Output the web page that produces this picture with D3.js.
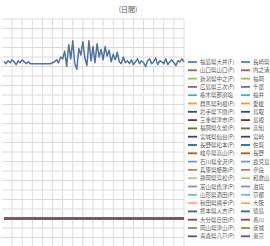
<!DOCTYPE html>
<html><head><meta charset="utf-8">
<script src="https://cdn.jsdelivr.net/npm/d3@7"></script>
<style>html,body{margin:0;padding:0;background:#fff;overflow:hidden}</style>
</head><body><svg id="c" width="270" height="246"></svg>
<script>
const titleText = "(日間)";
const categories = d3.range(1, 91).map(d => "第" + d + "日");
const mainSeries = [165,163,166,164,167,165,162,166,164,167,165,163,165,
  163,163,163,163,163,163,163,163,163,163,163,164,
  165,167,164,170,168,
  176,160,183,168,187,163,157,179,172,186,169,161,187,166,181,164,184,170,178,167,181,171,177,165,173,167,175,165,163,170,
  164,166,163,167,162,165,168,163,166,164,160,166,168,163,165,169,162,166,165,163,168,162,165,167,164,161,166,165,168,165];
const flatSeries = [0,0,0,0,0,0,0,0,0,0,0,0,0,0,0,0,0,0,0,0,0,0,0,0,0,0,0,0,0,0,
  0,0,0,0,0,0,0,0,0,0,0,0,0,0,0,0,0,0,0,0,0,0,0,0,0,0,0,0,0,0,
  0,0,0,0,0,0,0,0,0,0,0,0,0,0,0,0,0,0,0,0,0,0,0,0,0,0,0,0,0,0];
const seriesNames = [
 "福島県大井(F)","山口県山口(P)","新潟県中之(P)","広島県三次(P)","栃木県那須塩","群馬県利根(P)",
 "岩手県下閉(P)","三重県津市(P)","福岡県久留(P)","宮城県仙台(P)","長野県松本(P)","岐阜県高山(P)",
 "石川県金沢(P)","兵庫県姫路(P)","静岡県浜松(P)","富山県魚津(P)","山形県酒田(P)","秋田県横手(P)",
 "熊本県人吉(P)","大分県日田(P)","岡山県津山(P)","青森県八戸(P)",
 "長崎県","内之浦","福岡","千葉","福井","愛媛","鳥取","島根","高知","宮崎","佐賀",
 "長野","鹿児島","奈良","和歌山","滋賀","京都","大阪","徳島","香川","茨城","東京"];
const palette = ["#4F81BD","#C0504D","#9BBB59","#8064A2","#4BACC6","#F79646",
 "#2C4D75","#772C2A","#5F7530","#4D3B62","#276A7C","#B65708",
 "#729ACA","#CD7371","#AFC97A","#9983B5","#6FBDD1","#F9AB6B",
 "#3A6595","#9A3B38","#7B9A3E","#644D82"];
const yTicks = d3.range(-30, 211, 10);

const svg = d3.select("#c");
const x = d3.scalePoint().domain(categories).range([4, 184]);
const y = d3.scaleLinear().domain([-30, 210]).range([247, 19]);
const g = svg.append("g");
g.selectAll(".hg").data(yTicks).join("line")
 .attr("x1", 2).attr("x2", 184).attr("y1", d => y(d)).attr("y2", d => y(d))
 .attr("stroke", "#dcdcdc").attr("stroke-width", 1);
g.selectAll(".vg").data(categories.filter((d, i) => i % 5 === 4)).join("line")
 .attr("x1", d => x(d)).attr("x2", d => x(d)).attr("y1", 19).attr("y2", 247)
 .attr("stroke", "#dcdcdc").attr("stroke-width", 1);

const line = d3.line().x((d, i) => x(categories[i])).y(d => y(d));
const colorOf = i => palette[i % palette.length];
for (let s = seriesNames.length - 1; s >= 1; s--) {
  g.append("path").attr("d", line(flatSeries)).attr("fill", "none")
   .attr("stroke", colorOf(s)).attr("stroke-width", 2.5);
}
g.append("path").attr("d", line(flatSeries)).attr("fill", "none")
 .attr("stroke", "#6d5a62").attr("stroke-width", 2.5);
g.append("path").attr("d", line(mainSeries)).attr("fill", "none")
 .attr("stroke", "#50739f").attr("stroke-width", 1.5).attr("stroke-linejoin", "round");

svg.append("text").attr("x", 128).attr("y", 12).attr("text-anchor", "middle")
 .attr("font-family", "Noto Sans CJK JP").attr("font-size", 7).attr("fill", "#555").text(titleText);

const legRows = 22, rowH = 8.3, legTop = 62;
const leg = svg.append("g").attr("font-family", "Noto Sans CJK JP").attr("font-size", 5.5).attr("fill", "#595959");
seriesNames.forEach((n, i) => {
  const col = Math.floor(i / legRows), r = i % legRows;
  const lx = 188 + col * 53, ly = legTop + r * rowH;
  leg.append("line").attr("x1", lx).attr("x2", lx + 9).attr("y1", ly).attr("y2", ly)
   .attr("stroke", colorOf(i)).attr("stroke-width", 1.8);
  leg.append("text").attr("x", lx + 12).attr("y", ly + 2).text(n);
});
</script></body></html>
